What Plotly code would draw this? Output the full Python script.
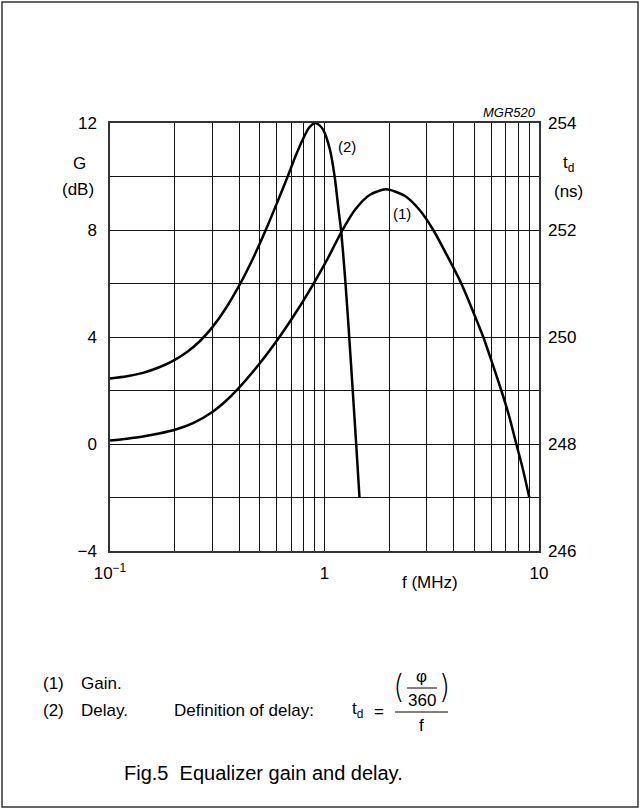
import plotly.graph_objects as go

# ---- data ----
f_gain = [0.1, 0.12, 0.1425, 0.1692, 0.2009, 0.2438, 0.2989, 0.3437, 0.3951, 0.4951, 0.6201,
          0.7442, 0.884, 1.027, 1.203, 1.388, 1.63, 1.935, 2.373, 2.788, 3.215, 3.725,
          4.343, 4.872, 5.499, 6.038, 6.673, 7.246, 7.838, 8.423, 9.012]
g_gain = [0.13, 0.20, 0.28, 0.39, 0.53, 0.78, 1.19, 1.58, 2.06, 2.98, 4.03,
          4.98, 5.96, 6.88, 7.95, 8.76, 9.32, 9.52, 9.27, 8.73, 8.0, 7.05,
          6.0, 5.05, 4.0, 3.05, 2.0, 1.06, 0.0, -0.96, -2.0]

f_delay = [0.1, 0.12, 0.1425, 0.1674, 0.1967, 0.2286, 0.2628, 0.2989, 0.3437, 0.4125, 0.4692,
           0.5396, 0.6005, 0.6758, 0.7363, 0.794, 0.8468, 0.903, 0.9428, 0.9872, 1.061,
           1.115, 1.163, 1.194, 1.253, 1.304, 1.354, 1.405, 1.456]
td_delay = [249.225, 249.265, 249.33, 249.425, 249.555, 249.72, 249.925, 250.175, 250.515, 251.06, 251.51,
            252.055, 252.505, 253.015, 253.4, 253.7, 253.91, 254.0, 253.965, 253.87, 253.495,
            253.0, 252.375, 252.0, 251.0, 250.0, 249.0, 248.0, 247.0]

x_major = [0.1, 1, 10]
x_major_text = ["10<sup>\u22121</sup>", "1", "10"]
x_minor = [0.2, 0.3, 0.4, 0.5, 0.6, 0.7, 0.8, 0.9, 2, 3, 4, 5, 6, 7, 8, 9]
y_major = [-4, 0, 4, 8, 12]
y_major_text = ["\u22124", "0", "4", "8", "12"]
y_minor = [-2, 2, 6, 10]
y2_ticks = [246, 248, 250, 252, 254]

FONT = "Liberation Sans, Arial, Helvetica, sans-serif"
L, T, W, H = 110, 123, 429, 428


def X(px):
    return (px - L) / W


def Y(py):
    return (T + H - py) / H


fig = go.Figure()
fig.add_trace(go.Scatter(x=f_gain, y=g_gain, mode="lines",
                         line=dict(color="black", width=2.5, shape="spline", smoothing=0.7),
                         showlegend=False, hoverinfo="skip"))
fig.add_trace(go.Scatter(x=f_delay, y=td_delay, mode="lines", yaxis="y2",
                         line=dict(color="black", width=2.5, shape="spline", smoothing=0.7),
                         showlegend=False, hoverinfo="skip"))

grid = dict(showgrid=True, gridcolor="#111", gridwidth=1)
fig.update_layout(
    width=641, height=810, autosize=False,
    margin=dict(l=L, r=641 - L - W, t=T, b=810 - T - H, pad=0),
    paper_bgcolor="white", plot_bgcolor="white",
    font=dict(family=FONT, size=17, color="black"),
    xaxis=dict(type="log", range=[-1, 1], tickmode="array", tickvals=x_major, ticktext=x_major_text,
               gridcolor="#111", gridwidth=1, showgrid=True, zeroline=False,
               minor=dict(tickmode="array", tickvals=x_minor, ticks="", **grid),
               showline=True, mirror=True, linecolor="#333", linewidth=1.5,
               ticks="", ticklabelstandoff=6, tickfont=dict(size=17)),
    yaxis=dict(range=[-4, 12], tickmode="array", tickvals=y_major, ticktext=y_major_text,
               gridcolor="#111", gridwidth=1, showgrid=True, zeroline=False,
               minor=dict(tickmode="array", tickvals=y_minor, ticks="", **grid),
               showline=True, mirror=True, linecolor="#333", linewidth=1.5,
               ticks="", ticklabelstandoff=8, tickfont=dict(size=17)),
    yaxis2=dict(range=[246, 254], overlaying="y", side="right", tickmode="array",
                tickvals=y2_ticks, ticktext=[str(v) for v in y2_ticks],
                showgrid=False, zeroline=False, showline=False, ticks="",
                ticklabelstandoff=8, tickfont=dict(size=17)),
)

ann = []


def txt(text, px, py, size=17, xanchor="center", italic=False, family=FONT, weight=None):
    f = dict(family=family, size=size, color="black")
    if weight:
        f["weight"] = weight
    ann.append(dict(text=("<i>%s</i>" % text) if italic else text, x=X(px), y=Y(py), xref="paper", yref="paper",
                    xanchor=xanchor, yanchor="middle", showarrow=False, font=f))


txt("G", 79, 163)
txt("(dB)", 78, 189)
txt("t<sub>d</sub>", 568, 164)
txt("(ns)", 568, 191)
txt("MGR520", 538, 112, size=13, xanchor="right", italic=True)
txt("(2)", 347, 146, size=15)
txt("(1)", 402, 213, size=15)
txt("f (MHz)", 400, 582, xanchor="left")

txt("(1)", 41, 683, xanchor="left")
txt("Gain.", 79, 683, xanchor="left")
txt("(2)", 41, 710, xanchor="left")
txt("Delay.", 79, 710, xanchor="left")
txt("Definition of delay:", 172, 710, xanchor="left")
txt("t<sub>d</sub>", 350, 710, xanchor="left")
txt("=", 379, 711)
txt("(", 398, 686, size=32, family="Inter, Noto Sans, Liberation Sans", weight=200)
txt(")", 445, 686, size=32, family="Inter, Noto Sans, Liberation Sans", weight=200)
txt("\u03c6", 421, 676)
txt("360", 422, 700)
txt("f", 421, 725)
txt("Fig.5\u00a0\u00a0Equalizer gain and delay.", 122, 773, size=20, xanchor="left")

fig.update_layout(annotations=ann)

shapes = [
    dict(type="line", xref="paper", yref="paper", x0=X(407), x1=X(437), y0=Y(688), y1=Y(688),
         line=dict(color="black", width=1)),
    dict(type="line", xref="paper", yref="paper", x0=X(395), x1=X(448), y0=Y(712), y1=Y(712),
         line=dict(color="black", width=1)),
    dict(type="rect", xref="paper", yref="paper", x0=X(2), x1=X(638), y0=Y(807), y1=Y(2),
         line=dict(color="#333", width=1.5), fillcolor="rgba(0,0,0,0)", layer="below"),
]
fig.update_layout(shapes=shapes)

fig.write_html("out.html", config={"displayModeBar": False},
               post_script="document.body.style.margin='0';")
